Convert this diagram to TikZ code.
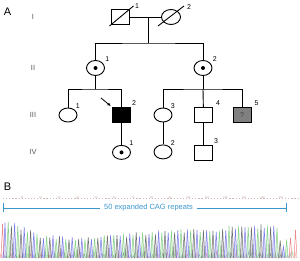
\documentclass[tikz,border=0pt]{standalone}
\usepackage{fontspec}
\setmainfont{Liberation Sans}
\usetikzlibrary{positioning,arrows.meta,shapes.geometric}
\definecolor{cagblue}{RGB}{60,150,205}
\definecolor{peakB}{RGB}{95,95,230}
\definecolor{peakG}{RGB}{105,200,105}
\definecolor{peakK}{RGB}{80,80,80}
\definecolor{peakR}{RGB}{225,90,90}

\begin{document}
\begin{tikzpicture}[x=1pt,y=-1pt,node distance=22pt,>=Latex,
  pers/.style={draw,line width=0.9pt,inner sep=0pt},
  male/.style={pers,rectangle,minimum width=18pt,minimum height=15pt},
  female/.style={pers,ellipse,minimum width=18pt,minimum height=14pt},
  carrier/.style={female,path picture={\fill (path picture bounding box.center) circle (2pt);}},
  num/.style={font=\fontsize{7}{7}\selectfont,inner sep=1pt,anchor=south west},
  gen/.style={font=\fontsize{7.5}{7.5}\selectfont,text=black!65},
  panel/.style={font=\fontsize{11}{11}\selectfont},
  ln/.style={line width=0.9pt}]
\useasboundingbox (0,0) rectangle (300,261);

% panel A: pedigree
\node[panel] (pA) at (7.5,12) {A};
\node[gen] (gI) at (33,17) {I};
\node[gen] (gII) at (33,68) {II};
\node[gen] (gIII) at (33,115) {III};
\node[gen] (gIV) at (33,152) {IV};

\node[male,label={[num,xshift=4pt,yshift=-1pt]north east:1}] (I1) at (120.5,17) {};
\node[female,minimum width=19pt,minimum height=15pt,label={[num,xshift=8pt,yshift=1pt]north east:2}] (I2) at (171,17) {};
\draw[ln] ([shift={(-11,9)}]I1.center) -- ([shift={(13,-11)}]I1.center);
\draw[ln] ([shift={(-13,9)}]I2.center) -- ([shift={(13,-11)}]I2.center);

\node[carrier,minimum height=15pt,label={[num,xshift=2pt]north east:1}] (II1) at (95.5,68) {};
\node[carrier,minimum height=15pt,label={[num,xshift=2pt]north east:2}] (II2) at (203,68) {};

\node[female,label={[num]north east:1}] (III1) at (68,115) {};
\node[male,fill=black,label={[num]north east:2}] (III2) at (121.5,115) {};
\node[female,label={[num]north east:3}] (III3) at (163,115) {};
\node[male,label={[num,xshift=2pt]north east:4}] (III4) at (203.5,115) {};
\node[male,fill=black!50,text=black!75,font=\fontsize{7}{7}\selectfont,label={[num,xshift=2pt]north east:5}] (III5) at (242,115) {?};

\node[carrier,below=of III2,label={[num]north east:1}] (IV1) {};
\node[female,below=of III3,label={[num]north east:2}] (IV2) {};
\node[male,below=of III4,label={[num]north east:3}] (IV3) {};

\coordinate (m1) at (148,17);
\coordinate (s1) at (148,43);
\coordinate (s2) at (95.5,89);
\coordinate (s3) at (203,89);
\coordinate (pb) at (101,98);
\draw[ln] (I1) -- (I2);
\draw[ln] (m1) -- (s1);
\draw[ln] (II1) |- (s1) -| (II2);
\draw[ln] (II1) -- (s2);
\draw[ln] (III1) |- (s2) -| (III2);
\draw[ln] (II2) -- (s3);
\draw[ln] (III3) |- (s3) -| (III5);
\draw[ln] (s3) -- (III4);
\draw[ln] (III2) -- (IV1);
\draw[ln] (III3) -- (IV2);
\draw[ln] (III4) -- (IV3);
\draw[line width=0.8pt,-{Latex[length=3.5pt,width=3pt]},shorten >=1.5pt] (pb) -- (III2.north west);

% panel B: chromatogram
\node[panel] (pB) at (7.5,187) {B};
\foreach \k [count=\n] in {22,40.5,59,77.5,96,114.5,133,151.5,170,188.5,207,225.5,244,262.5,281}{
  \pgfmathtruncatemacro\lab{10*\n}
  \node[font=\fontsize{2.5}{2.5}\selectfont,text=red!25!gray!70,inner sep=0pt] (r\n) at (\k,197.5) {\lab};
}
\foreach \k in {0,...,95}
  \draw[red!25!gray!45,line width=0.3pt] (3+\k*3.1,198) -- ++(1.2,0);

\coordinate (bl) at (3,208);
\coordinate (br) at (287,208);
\node[text=cagblue,font=\fontsize{7.5}{7.5}\selectfont,inner sep=3.5pt] (cag) at (148.5,208) {50 expanded CAG repeats};
\draw[cagblue,line width=0.7pt,{Bar[width=9pt]}-] (bl) -- (cag);
\draw[cagblue,line width=0.7pt,-{Bar[width=9pt]}] (cag) -- (br);

\pgfmathsetseed{5}
\foreach \i in {0,...,120}{
  \pgfmathsetmacro\px{1+2.45*\i}
  \pgfmathsetmacro\hh{2+5*rnd}
  \pgfmathtruncatemacro\cc{mod(\i,4)}
  \ifcase\cc\def\pc{peakR}\or\def\pc{peakB}\or\def\pc{peakK}\else\def\pc{peakG}\fi
  \draw[\pc,line width=0.4pt,opacity=.55] (\px-1,258) -- (\px,258-\hh) -- (\px+1,258);
}
\foreach \i in {0,...,88}{
  \pgfmathsetmacro\px{5+3.2*\i}
  \pgfmathsetmacro\hh{\px>280 ? (8+18*rnd) : (21+17*exp(-(\px/30)^2)+14*min(1,max(0,(\px-80)/190)))*(0.85+0.2*rnd)}
  \pgfmathtruncatemacro\cc{mod(\i,3)}
  \ifcase\cc\def\pc{peakB}\or\def\pc{peakG}\else\def\pc{peakK}\fi
  \filldraw[draw=\pc,fill=\pc,fill opacity=.2,draw opacity=.8,line width=0.5pt]
    (\px-1.5,258) -- (\px,258-\hh) -- (\px+1.5,258);
}
\draw[peakR,line width=0.5pt,opacity=.7] (1,258) -- (2.5,224) -- (4,258);
\draw[peakR,line width=0.5pt,opacity=.7] (289,258) -- (290.5,238) -- (292,258);
\draw[peakR,line width=0.5pt,opacity=.7] (294,258) -- (295.5,230) -- (297,258);
\end{tikzpicture}
\end{document}
